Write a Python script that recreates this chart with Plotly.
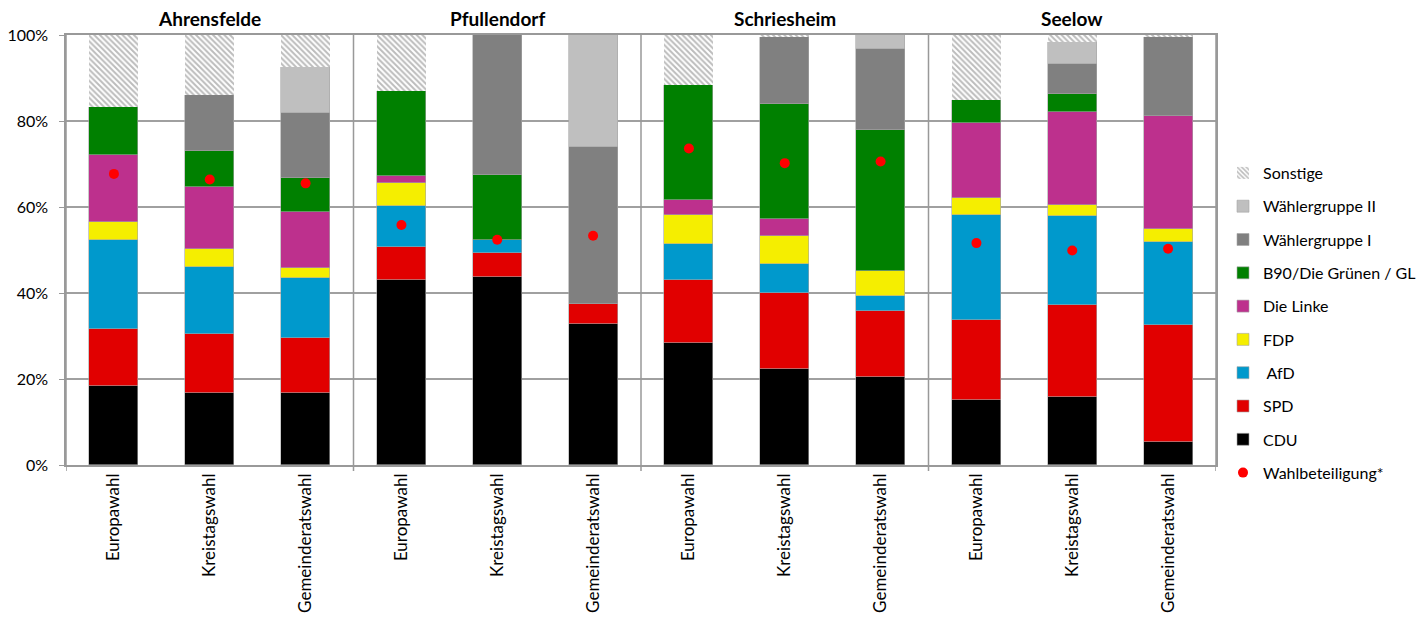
import plotly.graph_objects as go

groups = ["Ahrensfelde", "Pfullendorf", "Schriesheim", "Seelow"]
elections = ["Europawahl", "Kreistagswahl", "Gemeinderatswahl"]
categories = [e for g in groups for e in elections]

cdu    = [18.4, 16.8, 16.8, 43.1, 43.8, 32.9, 28.3, 22.3, 20.5, 15.1, 15.9, 5.4]
spd    = [13.2, 13.6, 12.7, 7.5, 5.5, 4.6, 14.8, 17.8, 15.3, 18.7, 21.2, 27.1]
afd    = [20.7, 15.6, 14.0, 9.7, 3.1, None, 8.4, 6.7, 3.4, 24.4, 20.7, 19.4]
fdp    = [4.3, 4.2, 2.2, 5.2, None, None, 6.7, 6.4, 6.0, 3.9, 2.6, 3.0]
linke  = [15.6, 14.5, 13.1, 1.7, None, None, 3.5, 3.9, None, 17.4, 21.6, 26.2]
gruene = [11.1, 8.4, 7.9, 19.8, 15.0, None, 26.6, 26.9, 32.6, 5.4, 4.2, None]
wg1    = [None, 13.0, 15.2, None, 32.6, 36.5, None, 15.6, 18.9, None, 7.1, 18.5]
wg2    = [None, None, 10.7, None, None, 26.0, None, None, 3.3, None, 5.1, None]
sonst  = [16.7, 13.9, 7.4, 13.0, None, None, 11.7, 0.4, None, 15.1, 1.6, 0.4]
wahlbeteiligung = [67.7, 66.4, 65.5, 55.8, 52.4, 53.3, 73.6, 70.2, 70.6, 51.6, 49.9, 50.3]

y_ticks = [0, 20, 40, 60, 80, 100]
y_labels = ["0%", "20%", "40%", "60%", "80%", "100%"]

series = [
    ("CDU", cdu, "#000000"),
    ("SPD", spd, "#e10000"),
    (" AfD", afd, "#0099cc"),
    ("FDP", fdp, "#f5ee00"),
    ("Die Linke", linke, "#bd308d"),
    ("B90/Die Grünen / GL", gruene, "#008000"),
    ("Wählergruppe I", wg1, "#808080"),
    ("Wählergruppe II", wg2, "#bfbfbf"),
]

x = list(range(len(categories)))
FONT = "Lato"

# page has an 8px body margin: figure is drawn from (8, 8) in the window
W, H = 1416, 611

fig = go.Figure()
n = len(series) + 2
for i, (name, vals, col) in enumerate(series):
    fig.add_trace(go.Bar(
        x=x, y=vals, name=name, width=0.51,
        marker=dict(color=col, line=dict(color="#a6a6a6", width=0.6)),
        legendrank=n - i, legendgroup=name,
    ))
fig.add_trace(go.Bar(
    x=x, y=sonst, name="Sonstige", width=0.51,
    marker=dict(color="white", line=dict(color="white", width=0),
                pattern=dict(shape="\\", fgcolor="#7a7a7a", bgcolor="white",
                             size=4, solidity=0.5)),
    legendrank=1, legendgroup="Sonstige",
))
fig.add_trace(go.Scatter(
    x=x, y=wahlbeteiligung, name="Wahlbeteiligung*", mode="markers",
    marker=dict(color="#ff0000", size=10, line=dict(width=0)),
    legendrank=n + 1, legendgroup="Wahl",
))

for xv in [-0.5, 2.5, 5.5, 8.5, 11.5]:
    fig.add_shape(type="line", xref="x", yref="paper", x0=xv, x1=xv, y0=-0.014, y1=1,
                  line=dict(color="#999999", width=1.5), layer="above")

for gi, g in enumerate(groups):
    fig.add_annotation(x=gi * 3 + 1, y=1, xref="x", yref="paper", yanchor="bottom",
                       text="<b>" + g + "</b>", showarrow=False, yshift=3,
                       font=dict(family=FONT, size=19, color="black"))

fig.update_layout(
    width=W, height=H,
    barmode="stack",
    plot_bgcolor="white", paper_bgcolor="white",
    margin=dict(l=58, r=208, t=27, b=154, autoexpand=False),
    font=dict(family=FONT, size=16, color="black"),
    legend=dict(
        xref="container", yref="container", x=1215 / W, y=1 - 148 / H,
        xanchor="left", yanchor="top",
        font=dict(family=FONT, size=16, color="black"),
        traceorder="grouped", tracegroupgap=9.5,
        itemwidth=30, maxheight=1,
    ),
    showlegend=True,
    bargap=0,
)
fig.update_xaxes(
    range=[-0.5, 11.5], tickvals=x, ticktext=categories, tickangle=-90,
    showgrid=False, showline=True, linecolor="#999999", linewidth=1.5,
    ticks="", mirror=True, zeroline=False,
    tickfont=dict(family=FONT, size=17, color="black"),
)
fig.update_yaxes(
    range=[0, 100], tickvals=y_ticks, ticktext=y_labels,
    showgrid=True, gridcolor="#a0a0a0", gridwidth=1.5,
    showline=True, linecolor="#999999", linewidth=1.5, mirror=True,
    ticks="outside", ticklen=5, tickcolor="#999999", zeroline=False,
    ticklabelstandoff=8,
    tickfont=dict(family=FONT, size=16, color="black"),
)

fig.write_html("out.html")
